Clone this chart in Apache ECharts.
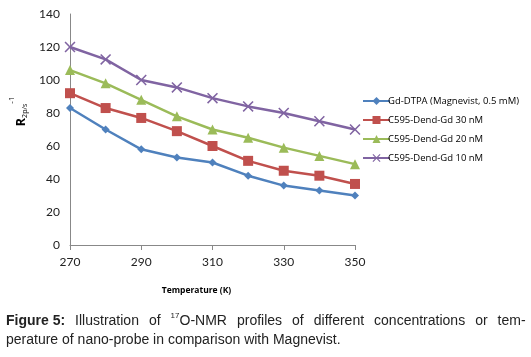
<!DOCTYPE html>
<html><head><meta charset="utf-8">
<script src="https://cdn.jsdelivr.net/npm/echarts@6/dist/echarts.min.js"></script>
<style>html,body{margin:0;padding:0;background:#fff}#c{width:531px;height:357px}</style>
</head><body><div id="c"></div>
<script>
const temperatures = [270, 280, 290, 300, 310, 320, 330, 340, 350];
const gdDtpa = [83, 70, 58, 53, 50, 42, 36, 33, 30];
const dend30 = [92, 83, 77, 69, 60, 51, 45, 42, 37];
const dend20 = [106, 98, 88, 78, 70, 65, 59, 54, 49];
const dend10 = [120, 112.5, 100, 95.5, 89, 84, 80, 75, 70];
const seriesNames = ['Gd-DTPA (Magnevist, 0.5 mM)', 'C595-Dend-Gd 30 nM', 'C595-Dend-Gd 20 nM', 'C595-Dend-Gd 10 nM'];
const yTicks = [0, 20, 40, 60, 80, 100, 120, 140];
const xTicks = [270, 290, 310, 330, 350];
const captionLine1 = ['Illustration', 'of', '{sup|17}O-NMR', 'profiles', 'of', 'different', 'concentrations', 'or', 'tem-'];
const captionLine2 = 'perature of nano-probe in comparison with Magnevist.';

const colors = ['#4F81BD', '#C0504D', '#9BBB59', '#8064A2'];
const symbols = ['diamond', 'rect', 'triangle', 'path://M0,1L1,0L5,4L9,0L10,1L6,5L10,9L9,10L5,6L1,10L0,9L4,5Z'];
const sizes = [8, 10, 10, 11];
const allData = [gdDtpa, dend30, dend20, dend10];

const chart = echarts.init(document.getElementById('c'), null, {renderer: 'canvas'});
chart.setOption({
  animation: false,
  textStyle: {fontFamily: 'Lato'},
  grid: {left: 69, right: 176, top: 14, bottom: 112, containLabel: false},
  xAxis: {
    type: 'value', min: xTicks[0], max: xTicks[xTicks.length - 1], interval: 20,
    name: 'Temperature (K)', nameLocation: 'middle', nameGap: 41,
    nameTextStyle: {fontFamily: 'Open Sans', fontWeight: 'bold', fontSize: 8.5, color: '#000', padding: [0, 32, 0, 0]},
    axisLine: {lineStyle: {color: '#888', width: 1}},
    axisTick: {show: true, length: 5, lineStyle: {color: '#888'}},
    axisLabel: {color: '#222', fontSize: 12, margin: 11},
    splitLine: {show: false}
  },
  yAxis: {
    type: 'value', min: yTicks[0], max: yTicks[yTicks.length - 1], interval: 20,
    name: '{r|R}{sub|2p/s}{sup|-1}', nameLocation: 'middle', nameRotate: 90, nameGap: 42,
    nameTextStyle: {
      padding: [0, 0, 0, 36],
      rich: {
        r: {fontSize: 13, fontWeight: 'bold', color: '#000', fontFamily: 'Open Sans', verticalAlign: 'bottom', lineHeight: 20},
        sub: {fontSize: 7, color: '#000', fontFamily: 'Open Sans', verticalAlign: 'bottom', lineHeight: 20},
        sup: {fontSize: 8, color: '#000', fontFamily: 'Open Sans', verticalAlign: 'top', lineHeight: 20, padding: [0, 0, 6, 0]}
      }
    },
    axisLine: {show: true, lineStyle: {color: '#888', width: 1}},
    axisTick: {show: false},
    axisLabel: {color: '#222', fontSize: 12, margin: 10},
    splitLine: {show: false}
  },
  legend: {
    orient: 'vertical', left: 357, top: 91, itemGap: 9, itemWidth: 27, itemHeight: 10,
    data: seriesNames,
    textStyle: {fontSize: 9.5, color: '#000', fontFamily: 'Open Sans', padding: [0, 0, 0, -7]}
  },
  title: {
    left: 1, top: 307,
    text: '{b|Figure 5:}{s| }' + captionLine1.join('{s| }') + '\n' + captionLine2,
    textStyle: {
      fontFamily: 'Liberation Sans', fontSize: 14, fontWeight: 'normal', color: '#222', lineHeight: 19,
      rich: {
        b: {fontFamily: 'Liberation Sans', fontSize: 14, fontWeight: 'bold', color: '#222', lineHeight: 19},
        s: {fontFamily: 'Liberation Sans', fontSize: 14, color: '#222', lineHeight: 19, width: 10},
        sup: {fontFamily: 'Liberation Sans', fontSize: 8, color: '#222', verticalAlign: 'top', lineHeight: 19, padding: [0, 0, 5, 0]}
      }
    }
  },
  series: allData.map((d, i) => ({
    name: seriesNames[i], type: 'line',
    data: temperatures.map((t, j) => [t, d[j]]),
    symbol: symbols[i], symbolSize: sizes[i],
    lineStyle: {color: colors[i], width: 2.5},
    itemStyle: {color: colors[i]},
    showAllSymbol: true
  }))
});
</script></body></html>
